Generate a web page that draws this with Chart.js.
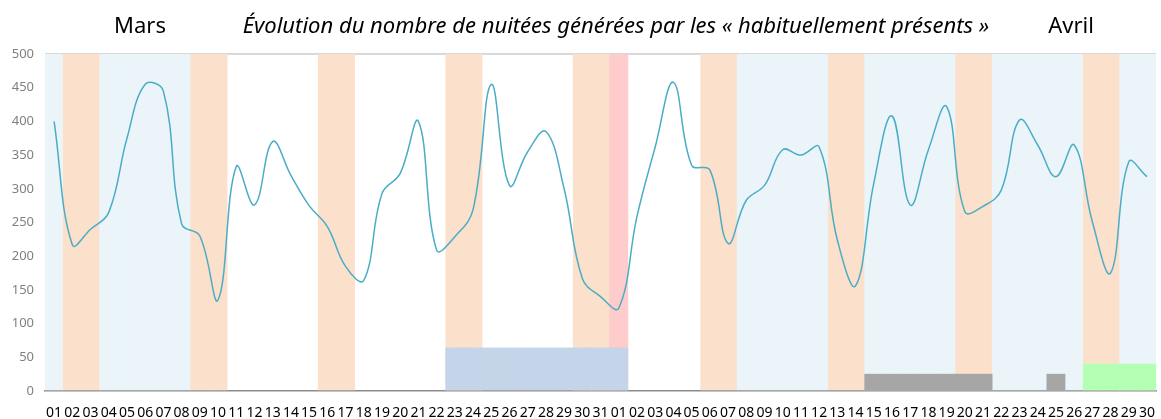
<!DOCTYPE html>
<html>
<head>
<meta charset="utf-8">
<script src="https://cdn.jsdelivr.net/npm/chart.js@4"></script>
<style>
  html, body { margin: 0; padding: 0; background: #fff; }
  #graph { width: 1161px; height: 419px; }
</style>
</head>
<body>
<div id="graph"><canvas id="myChart"></canvas></div>
<script>
// jours : mars (01-31) puis avril (01-30)
const jours = [
  "01","02","03","04","05","06","07","08","09","10","11","12","13","14","15","16",
  "17","18","19","20","21","22","23","24","25","26","27","28","29","30","31",
  "01","02","03","04","05","06","07","08","09","10","11","12","13","14","15","16",
  "17","18","19","20","21","22","23","24","25","26","27","28","29","30"
];

// nuitées par jour
const nuitees = [
  400, 217, 240, 265, 375, 455, 445, 248, 230, 135,
  333, 276, 370, 320, 275, 244, 185, 164, 293, 323,
  400, 209, 229, 269, 455, 305, 355, 385, 300, 167, 140,
  123, 259, 362, 458, 335, 328, 219, 283, 305, 358,
  350, 362, 224, 156, 308, 408, 276, 358, 422, 266,
  274, 298, 402, 365, 318, 365, 251, 175, 340, 318
];

// type de jour : V = vacances, W = week-end, F = férié, "" = normal
const periodes = [
  "V","W","W","V","V","V","V","V","W","W","","","","","","W",
  "W","","","","","","W","W","","","","","","W","W",
  "F","","","","","W","W","V","V","V","V","V","W","W","V","V",
  "V","V","V","W","W","V","V","V","V","V","W","W","V","V"
];

// événements en bas du graphique
const evenements = [
  null,null,null,null,null,null,null,null,null,null,null,null,null,null,null,null,
  null,null,null,null,null,null,64,64,64,64,64,64,64,64,64,
  64,null,null,null,null,null,null,null,null,null,null,null,null,null,25,25,
  25,25,25,25,25,null,null,null,25,null,40,40,40,40
];
const typesEvenement = [
  "","","","","","","","","","","","","","","","",
  "","","","","","","A","A","A","A","A","A","A","A","A",
  "A","","","","","","","","","","","","","","B","B",
  "B","B","B","B","B","","","","B","","C","C","C","C"
];

const yTicks = [0, 50, 100, 150, 200, 250, 300, 350, 400, 450, 500];

const couleursPeriode = { V: "#ebf5f9", W: "#fbe0cb", F: "#ffcccc", "": "rgba(0,0,0,0)" };
const couleursEvenement = { A: "#c5d5e9", B: "#a6a6a6", C: "#b3ffb3", "": "rgba(0,0,0,0)" };

// titres au-dessus du graphique
const titres = {
  id: "titres",
  afterDraw(chart) {
    const ctx = chart.ctx;
    ctx.save();
    ctx.fillStyle = "#000";
    ctx.textBaseline = "middle";
    ctx.textAlign = "center";
    ctx.font = "22px 'Noto Sans'";
    ctx.fillText("Mars", 140, 27);
    ctx.fillText("Avril", 1071, 27);
    ctx.font = "italic 22px 'Noto Sans'";
    ctx.fillText("Évolution du nombre de nuitées générées par les « habituellement présents »", 616, 27);
    ctx.restore();
  }
};

const config = {
  data: {
    labels: jours,
    datasets: [
      {
        type: "line",
        data: nuitees,
        borderColor: "#4bacc6",
        borderWidth: 1.5,
        pointRadius: 0,
        tension: 0.4,
        fill: false,
        order: 0
      },
      {
        type: "bar",
        data: evenements,
        backgroundColor: typesEvenement.map(t => couleursEvenement[t]),
        barPercentage: 1,
        categoryPercentage: 1,
        grouped: false,
        order: 1
      },
      {
        type: "bar",
        data: periodes.map(p => (p ? 500 : null)),
        backgroundColor: periodes.map(p => couleursPeriode[p]),
        barPercentage: 1,
        categoryPercentage: 1,
        grouped: false,
        order: 2
      }
    ]
  },
  options: {
    responsive: true,
    maintainAspectRatio: false,
    animation: false,
    layout: { padding: { top: 54, right: 0, left: 0, bottom: 0 } },
    plugins: {
      legend: { display: false },
      tooltip: { enabled: false }
    },
    scales: {
      x: {
        grid: { display: false },
        border: { display: true, color: "#8c8c8c", width: 1.5 },
        ticks: {
          autoSkip: false,
          maxRotation: 0,
          minRotation: 0,
          padding: 6,
          color: "#000",
          font: { family: "'Noto Sans'", size: 14 }
        },
        afterFit(scale) { scale.height = 28; }
      },
      y: {
        min: 0,
        max: 500,
        afterBuildTicks(scale) { scale.ticks = yTicks.map(v => ({ value: v })); },
        grid: {
          drawTicks: false,
          color: ctx => (ctx.tick && ctx.tick.value === 500 ? "#d9d9d9" : "rgba(0,0,0,0)"),
          lineWidth: 2
        },
        border: { display: false },
        ticks: {
          padding: 11,
          color: "#808080",
          font: { family: "'Noto Sans'", size: 13 }
        },
        afterFit(scale) { scale.width = 45; }
      }
    }
  },
  plugins: [titres]
};

const myChart = new Chart(document.getElementById("myChart"), config);
</script>
</body>
</html>
